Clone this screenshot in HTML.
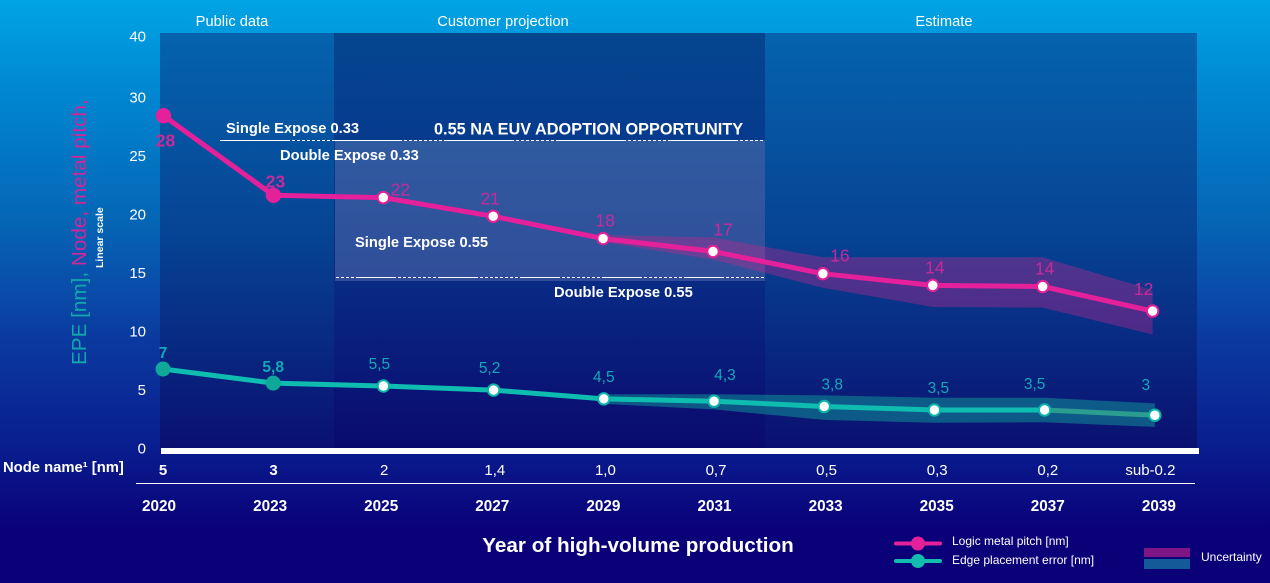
<!DOCTYPE html>
<html lang="en">
<head>
<meta charset="utf-8">
<title>Logic metal pitch and edge placement error roadmap</title>
<style>
html,body{margin:0;padding:0;width:1270px;height:583px;overflow:hidden;background:#0a0078}
svg{display:block;font-family:"Liberation Sans",sans-serif}
</style>
</head>
<body>
<svg id="chart" xmlns="http://www.w3.org/2000/svg" width="1270" height="583" viewBox="0 0 1270 583">
  <defs>
    <linearGradient id="bg" x1="0" y1="0" x2="0" y2="1">
      <stop offset="0" stop-color="#00a4e4"/>
      <stop offset="0.17" stop-color="#0085d0"/>
      <stop offset="0.38" stop-color="#0565b5"/>
      <stop offset="0.51" stop-color="#0a4aa8"/>
      <stop offset="0.58" stop-color="#0a3a9f"/>
      <stop offset="0.77" stop-color="#091d8e"/>
      <stop offset="0.91" stop-color="#0a0078"/>
      <stop offset="1" stop-color="#0a0078"/>
    </linearGradient>
    <linearGradient id="panelLight" x1="0" y1="0" x2="0" y2="1">
      <stop offset="0" stop-color="#0563ae"/>
      <stop offset="0.48" stop-color="#064494"/>
      <stop offset="1" stop-color="#0a1070"/>
    </linearGradient>
    <linearGradient id="panelDark" x1="0" y1="0" x2="0" y2="1">
      <stop offset="0" stop-color="#05468f"/>
      <stop offset="0.27" stop-color="#063a8e"/>
      <stop offset="0.6" stop-color="#082a85"/>
      <stop offset="1" stop-color="#0a0a6e"/>
    </linearGradient>
  </defs>
  <rect x="0" y="0" width="1270" height="583" fill="url(#bg)"/>
  <rect x="160" y="33" width="174" height="415" fill="url(#panelLight)"/>
  <rect x="334" y="33" width="431" height="415" fill="url(#panelDark)"/>
  <rect x="765" y="33" width="432" height="415" fill="url(#panelLight)"/>
  <rect x="335" y="140" width="430" height="141" fill="#ffffff" fill-opacity="0.17"/>

  <text x="232" y="26" fill="#fff" font-size="14.7" text-anchor="middle">Public data</text>
  <text x="503" y="26" fill="#fff" font-size="14.7" text-anchor="middle">Customer projection</text>
  <text x="944" y="26" fill="#fff" font-size="14.7" text-anchor="middle">Estimate</text>

  <line x1="220" y1="140.5" x2="764" y2="140.5" stroke="#fff" stroke-width="1" stroke-dasharray="70 2 3 2 3 2 3 2 3 2 3 2 3 2 3 2 3 2"/>
  <line x1="336" y1="277.5" x2="766" y2="277.5" stroke="#fff" stroke-width="1" stroke-dasharray="3 2 3 2 3 2 3 2 40 2 3 2 3 2 3 2 3 2"/>

  <text x="226" y="133" fill="#fff" font-size="14.7" font-weight="700">Single Expose 0.33</text>
  <text x="280" y="160" fill="#fff" font-size="14.7" font-weight="700">Double Expose 0.33</text>
  <text x="434" y="134.5" fill="#fff" font-size="16.3" font-weight="700">0.55 NA EUV ADOPTION OPPORTUNITY</text>
  <text x="355" y="247" fill="#fff" font-size="14.7" font-weight="700">Single Expose 0.55</text>
  <text x="554" y="297" fill="#fff" font-size="14.7" font-weight="700">Double Expose 0.55</text>

  <text transform="translate(86,365) rotate(-90)" font-size="20.7"><tspan fill="#10a9ab">EPE [nm], </tspan><tspan fill="#d0279a">Node, metal pitch,</tspan></text>
  <text transform="translate(103,268) rotate(-90)" font-size="10.5" font-weight="700" fill="#fff">Linear scale</text>

  <rect x="161" y="448" width="1038" height="6" fill="#fff"/>
  <line x1="136" y1="483.5" x2="1195" y2="483.5" stroke="#fff" stroke-width="1"/>
  <text x="3" y="472" fill="#fff" font-size="14.8" font-weight="700">Node name¹ [nm]</text>
  <text x="638" y="552" fill="#fff" font-size="20.7" font-weight="700" text-anchor="middle">Year of high-volume production</text>

  <g id="ticks"></g>
  <g id="nodes"></g>
  <g id="years"></g>
  <g id="bands"></g>
  <g id="lines"></g>
  <g id="points"></g>
  <g id="values"></g>

  <g>
    <g>
      <line x1="896" y1="543.5" x2="940" y2="543.5" stroke="#e4209a" stroke-width="4" stroke-linecap="round"/>
      <circle cx="918" cy="543.5" r="7" fill="#e4209a"/>
      <text x="952" y="545" fill="#fff" font-size="12">Logic metal pitch [nm]</text>
    </g>
    <g>
      <line x1="896" y1="561" x2="940" y2="561" stroke="#12bdb0" stroke-width="4" stroke-linecap="round"/>
      <circle cx="918" cy="561" r="7" fill="#12bdb0"/>
      <text x="952" y="564" fill="#fff" font-size="12">Edge placement error [nm]</text>
    </g>
    <g>
      <rect x="1144" y="548" width="46" height="9" fill="#7d1584"/>
      <rect x="1144" y="559" width="46" height="10" fill="#135a99"/>
      <text x="1201" y="561" fill="#fff" font-size="12">Uncertainty</text>
    </g>
  </g>
</svg>
<script>
const years = ['2020','2023','2025','2027','2029','2031','2033','2035','2037','2039'];
const nodeNames = ['5','3','2','1,4','1,0','0,7','0,5','0,3','0,2','sub-0.2'];
const yTicks = [40,30,25,20,15,10,5,0];
const pitchValues = [28.4,21.6,21.4,19.8,17.9,16.8,14.9,13.9,13.8,11.7];
const pitchLabels = ['28','23','22','21','18','17','16','14','14','12'];
const epeValues = [6.75,5.55,5.3,4.95,4.2,4.0,3.55,3.25,3.25,2.8];
const epeLabels = ['7','5,8','5,5','5,2','4,5','4,3','3,8','3,5','3,5','3'];
const bandStart = 4;
const pitchUpper = [18.2,18.0,16.3,16.3,16.3,13.5];
const pitchLower = [17.6,16.1,13.7,12.05,12.0,9.7];
const epeUpper = [4.6,4.6,4.5,4.3,4.3,3.8];
const epeLower = [3.77,3.3,2.4,2.15,2.2,1.8];

const NS = 'http://www.w3.org/2000/svg';
function yScale(v){ return v <= 30 ? 448 - v * 11.7 : 97 - (v - 30) * 6.1; }
function xPitch(i){ return 163.5 + i * 109.9; }
function xEpe(i){ return 163 + i * 110.2; }
function xYear(i){ return 159 + i * 111.1; }
function xNode(i){ return 163 + i * 110.6 - (i === 9 ? 8 : 0); }
function make(tag, parent, attrs, txt){
  const el = document.createElementNS(NS, tag);
  for (const k in attrs) el.setAttribute(k, attrs[k]);
  if (txt !== undefined) el.textContent = txt;
  document.getElementById(parent).appendChild(el);
  return el;
}
yTicks.forEach(function(t){
  const el = make('text','ticks',{x:146,y:yScale(t)+5.5,fill:'#fff','font-size':15,'text-anchor':'end'},String(t));
  
  
});
nodeNames.forEach(function(n,i){
  const el = make('text','nodes',{x:xNode(i),y:475,fill:'#fff','font-size':15,'text-anchor':'middle','font-weight':i<2?700:400},n);
  
  
});
years.forEach(function(n,i){
  const el = make('text','years',{x:xYear(i),y:511,fill:'#fff','font-size':15.3,'font-weight':700,'text-anchor':'middle'},n);
  
  
});
function bandPath(upper, lower, xf){
  const top = upper.map(function(v,i){ return xf(i+bandStart).toFixed(1)+','+yScale(v).toFixed(1); });
  const bot = lower.map(function(v,i){ return xf(i+bandStart).toFixed(1)+','+yScale(v).toFixed(1); }).reverse();
  return top.concat(bot).join(' ');
}
const pitchBand = make('polygon','bands',{points:bandPath(pitchUpper,pitchLower,xPitch),fill:'#c2278f','fill-opacity':0.38});


const epeBand = make('polygon','bands',{points:bandPath(epeUpper,epeLower,xEpe),fill:'#12b5a0','fill-opacity':0.42});



function linePts(vals, xf, from, to){
  const out = [];
  for (let i = from; i <= to; i++) out.push(xf(i).toFixed(1)+','+yScale(vals[i]).toFixed(1));
  return out.join(' ');
}
const pitchLine = make('polyline','lines',{points:linePts(pitchValues,xPitch,0,pitchValues.length-1),fill:'none',stroke:'#e4209a','stroke-width':5,'stroke-linejoin':'round'});


const epeLine = make('polyline','lines',{points:linePts(epeValues,xEpe,0,epeValues.length-2),fill:'none',stroke:'#0fbcb0','stroke-width':5,'stroke-linejoin':'round'});


const epeTail = make('polyline','lines',{points:linePts(epeValues,xEpe,epeValues.length-2,epeValues.length-1),fill:'none',stroke:'#2a9d8f','stroke-width':5});



function drawPoints(vals, xf, color, solidR, filledColor){
  vals.forEach(function(v,i){
    const solid = i < 2;
    const c = make('circle','points',{cx:xf(i),cy:yScale(v),r:solid?solidR:5.7,fill:solid?filledColor:'#fff',stroke:solid?'none':color,'stroke-width':solid?0:2});
    
    
  });
}
drawPoints(pitchValues,xPitch,'#e4209a',7.7,'#e4209a');
drawPoints(epeValues,xEpe,'#0fb5a8',7.5,'#10a898');

function pitchDx(i){
  if (i === 2 || i === 6) return 17;
  if (i === 5) return 10;
  if (i === 9) return -9;
  if (i === 3) return -3;
  return 2;
}
function pitchDy(i){
  if (i === 0) return 31;
  if (i === 1) return -8;
  if (i === 2) return -2;
  if (i === 5 || i === 9) return -16;
  return -12;
}
function epeDx(i){
  if (i === 5) return 11;
  if (i === 6) return 8;
  if (i === 7) return 4;
  if (i === 8) return -10;
  if (i === 9) return -9;
  if (i === 2 || i === 3) return -4;
  return 0;
}
function epeDy(i){
  if (i < 2) return -11;
  if (i === 5 || i === 8) return -21;
  if (i === 9) return -25;
  return -17;
}
pitchValues.forEach(function(v,i){
  const t = make('text','values',{x:xPitch(i)+pitchDx(i),y:yScale(v)+pitchDy(i),fill:'#c72a9c','font-size':17.5,'text-anchor':'middle','font-weight':i<2?700:400},pitchLabels[i]);
  
  
});
epeValues.forEach(function(v,i){
  const t = make('text','values',{x:xEpe(i)+epeDx(i),y:yScale(v)+epeDy(i),fill:'#14a8b8','font-size':15.5,'text-anchor':'middle','font-weight':i<2?700:400},epeLabels[i]);
  
  
});
</script>
</body>
</html>
